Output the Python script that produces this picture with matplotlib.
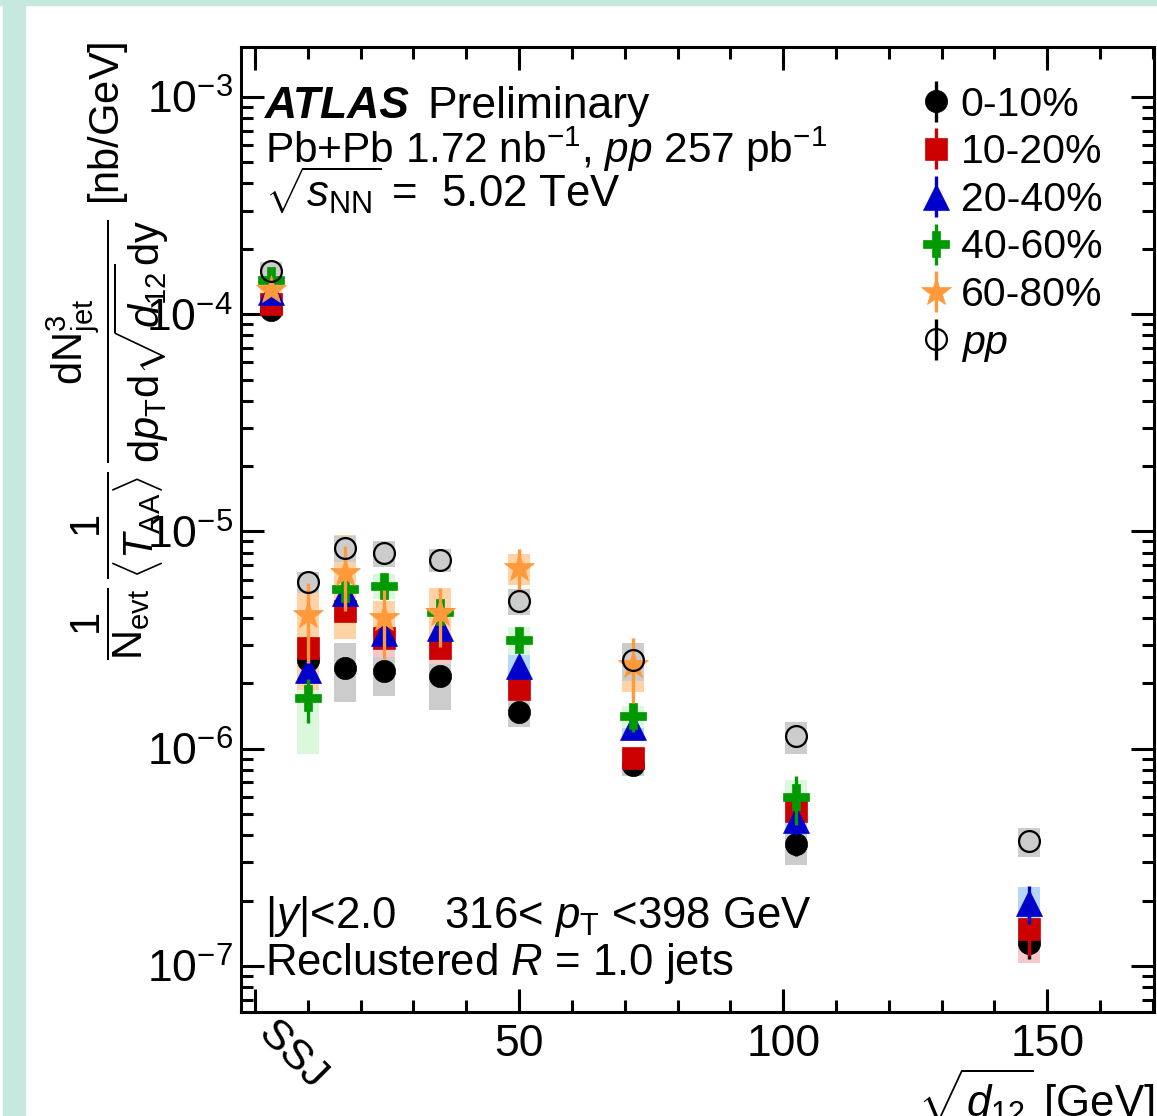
import numpy as np
import matplotlib
matplotlib.use("Agg")
import matplotlib.pyplot as plt
from matplotlib.patches import Rectangle
from matplotlib.ticker import FixedLocator, MultipleLocator, LogLocator, NullFormatter

plt.rcParams['font.family'] = ['Liberation Sans', 'DejaVu Sans']
plt.rcParams['mathtext.fontset'] = 'custom'
plt.rcParams['mathtext.rm'] = 'Liberation Sans'
plt.rcParams['mathtext.it'] = 'Liberation Sans:italic'
plt.rcParams['mathtext.bf'] = 'Liberation Sans:bold'

# sqrt(d12) bin centres, first bin is the single-subjet (SSJ) category
d12 = [3, 10, 17, 24.5, 35, 50, 71.5, 102.5, 146.5]

cent_labels = ['0-10%', '10-20%', '20-40%', '40-60%', '60-80%', r'$pp$']

y_0_10 = [1.05e-4, 2.56e-6, 2.35e-6, 2.29e-6, 2.15e-6, 1.48e-6, 8.44e-7, 3.65e-7, 1.27e-7]
y_10_20 = [1.12e-4, 2.91e-6, 4.29e-6, 3.23e-6, 2.90e-6, 1.88e-6, 9.05e-7, 5.14e-7, 1.48e-7]
y_20_40 = [1.27e-4, 2.31e-6, 5.2e-6, 3.40e-6, 3.59e-6, 2.40e-6, 1.26e-6, 4.71e-7, 1.95e-7]
y_40_60 = [1.44e-4, 1.71e-6, 5.42e-6, 5.62e-6, 4.24e-6, 3.17e-6, 1.41e-6, 5.97e-7, np.nan]
y_60_80 = [1.29e-4, 4.13e-6, 6.43e-6, 3.99e-6, 4.21e-6, 6.78e-6, 2.43e-6, np.nan, np.nan]
y_pp = [1.58e-4, 5.86e-6, 8.37e-6, 7.94e-6, 7.39e-6, 4.79e-6, 2.55e-6, 1.14e-6, 3.74e-7]

# relative statistical uncertainties
stat_0_10 = [0.02, 0.08, 0.08, 0.08, 0.06, 0.06, 0.06, 0.12, 0.15]
stat_10_20 = [0.02, 0.10, 0.10, 0.10, 0.08, 0.07, 0.08, 0.12, 0.25]
stat_20_40 = [0.02, 0.12, 0.10, 0.10, 0.10, 0.08, 0.10, 0.15, 0.20]
stat_40_60 = [0.03, 0.23, 0.15, 0.12, 0.12, 0.10, 0.15, 0.25, np.nan]
stat_60_80 = [0.04, 0.40, 0.33, 0.35, 0.30, 0.22, 0.33, np.nan, np.nan]
stat_pp = [0.01, 0.03, 0.03, 0.03, 0.03, 0.03, 0.04, 0.05, 0.06]

# relative systematic uncertainties (boxes)
sys_0_10 = [0.08, 0.20, 0.30, 0.24, 0.30, 0.15, 0.11, 0.20, 0.10]
sys_10_20 = [0.08, 0.20, 0.25, 0.18, 0.15, 0.10, 0.10, 0.15, 0.30]
sys_20_40 = [0.08, 0.20, 0.20, 0.15, 0.15, 0.13, 0.12, 0.15, 0.18]
sys_40_60 = [0.08, 0.45, 0.15, 0.13, 0.15, 0.15, 0.12, 0.20, np.nan]
sys_60_80 = [0.08, 0.55, 0.50, 0.20, 0.30, 0.16, 0.25, np.nan, np.nan]
sys_pp = [0.10, 0.11, 0.14, 0.14, 0.12, 0.14, 0.20, 0.17, 0.15]

series = [
    (y_0_10, stat_0_10, sys_0_10, 'o', 'black', 'black', '#cccccc', 16),
    (y_10_20, stat_10_20, sys_10_20, 's', '#cc0000', '#cc0000', '#f6c8c8', 16),
    (y_20_40, stat_20_40, sys_20_40, '^', '#0000cc', '#0000cc', '#b6d8f8', 19),
    (y_40_60, stat_40_60, sys_40_60, 'P', '#009900', '#009900', '#dcf8dc', 19),
    (y_60_80, stat_60_80, sys_60_80, '*', '#ff9a3c', '#ff9a3c', '#ffd3a6', 22),
    (y_pp, stat_pp, sys_pp, 'o', 'none', 'black', '#cccccc', 15),
]

box_w = 4.2
fs = 31.5

fig = plt.figure(figsize=(11.57, 11.16), dpi=100)
fig.patch.set_facecolor('white')
# teal page border
fig.patches.append(Rectangle((0, 1 - 5 / 1116), 1, 5 / 1116, transform=fig.transFigure,
                             color='#c5e8df', zorder=0))
fig.patches.append(Rectangle((3 / 1157, 0), 22 / 1157, 1, transform=fig.transFigure,
                             color='#c5e8df', zorder=0))

ax = fig.add_axes([241 / 1157, 1 - 1012 / 1116, 913 / 1157, 965 / 1116])
ax.set_yscale('log')

x = np.array(d12)
handles = []
for i, (yv, st, sy, mk, fc, ec, boxc, ms) in enumerate(series):
    yv = np.array(yv)
    sy = np.array(sy)
    ok = ~np.isnan(yv)
    lo = yv[ok] * (1 - sy[ok])
    hi = yv[ok] * (1 + sy[ok])
    ax.bar(x[ok], hi - lo, bottom=lo, width=box_w, color=boxc, zorder=1 + 0.1 * i, linewidth=0)

for i, (yv, st, sy, mk, fc, ec, boxc, ms) in enumerate(series):
    yv = np.array(yv)
    st = np.array(st)
    ok = ~np.isnan(yv)
    hollow = fc == 'none'
    h = ax.errorbar(x[ok], yv[ok], yerr=yv[ok] * st[ok], fmt=mk, ms=ms,
                    mfc=fc, mec=ec, mew=1.6 if hollow else 0.5,
                    ecolor=ec, elinewidth=2.4, capsize=0, zorder=3 + i)
    if hollow:
        # keep the small pp bars under the boxes so they don't cross the open circles
        for coll in h[2]:
            coll.set_zorder(0.5)
    handles.append(h)

ax.set_xlim(-2.65, 170.2)
ax.set_ylim(10 ** -7.212, 10 ** -2.77)

ax.xaxis.set_major_locator(FixedLocator([0, 50, 100, 150]))
ax.set_xticklabels(['', '50', '100', '150'])
ax.xaxis.set_minor_locator(MultipleLocator(10))
ax.yaxis.set_major_locator(LogLocator(base=10, numticks=20))
ax.yaxis.set_minor_locator(LogLocator(base=10, subs=np.arange(2, 10), numticks=20))
ax.yaxis.set_minor_formatter(NullFormatter())

ax.tick_params(which='both', direction='in', top=True, right=True, width=2.2, labelsize=32)
ax.tick_params(which='major', length=16.5)
ax.tick_params(which='minor', length=8.5)
ax.tick_params(axis='x', pad=9)
ax.tick_params(axis='y', pad=6)
for s in ax.spines.values():
    s.set_linewidth(2.2)

ax.text(7, -0.045, 'SSJ', transform=ax.get_xaxis_transform(), rotation=-45,
        ha='center', va='center', fontsize=31)
ax.text(1.0, -0.088, r'$\sqrt{d_{12}}$ [GeV]', transform=ax.transAxes,
        ha='right', va='center', fontsize=fs)

fig.text(108 / 1157, 1 - 42 / 1116,
         r'$\dfrac{1}{\mathrm{N}_{\mathrm{evt}}}\,\dfrac{1}{\langle T_{\mathrm{AA}}\rangle}\,'
         r'\dfrac{\mathrm{dN}^{3}_{\mathrm{jet}}}{\mathrm{d}p_{\mathrm{T}}\mathrm{d}\sqrt{d_{12}}\mathrm{dy}}$ [nb/GeV]',
         rotation=90, ha='center', va='top', fontsize=30)

tx = 0.0263
ax.text(tx, 0.9264, 'ATLAS', transform=ax.transAxes, fontsize=fs + 0.5,
        fontweight='bold', fontstyle='italic', va='baseline')
ax.text(0.2037, 0.9264, 'Preliminary', transform=ax.transAxes, fontsize=fs + 0.5, va='baseline')
ax.text(tx, 0.8798, r'Pb+Pb 1.72 nb$^{-1}$, $pp$ 257 pb$^{-1}$', transform=ax.transAxes,
        fontsize=fs - 1, va='baseline')
ax.text(tx, 0.8342, r'$\sqrt{s_{\mathrm{NN}}}$ =  5.02 TeV', transform=ax.transAxes,
        fontsize=fs, va='baseline')
ax.text(tx, 0.0870, r'$|y|$<2.0    316< $p_{\mathrm{T}}$ <398 GeV', transform=ax.transAxes,
        fontsize=fs, va='baseline')
ax.text(tx, 0.0383, r'Reclustered $R$ = 1.0 jets', transform=ax.transAxes,
        fontsize=fs, va='baseline')

ax.legend(handles, cent_labels, loc='upper left', bbox_to_anchor=(0.739, 0.960),
          frameon=False, fontsize=29.5, borderpad=0, borderaxespad=0,
          handlelength=1.0, handletextpad=0.1, labelspacing=0.235)

fig.savefig('out.png', dpi=100)
